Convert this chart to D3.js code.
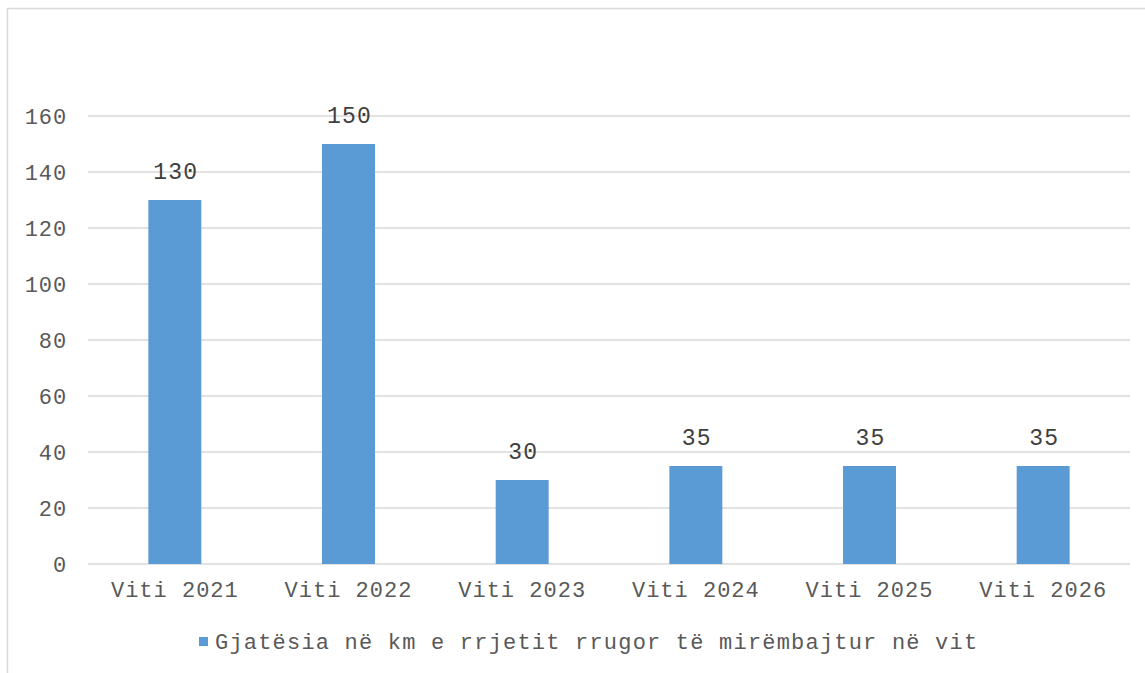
<!DOCTYPE html>
<html>
<head>
<meta charset="utf-8">
<script src="https://cdn.jsdelivr.net/npm/d3@7"></script>
<style>
  body { margin: 0; background: #fff; }
  text { font-family: "Liberation Mono", "Courier New", monospace; }
</style>
</head>
<body>
<svg id="chart" width="1145" height="673"></svg>
<script>
const categories = ["Viti 2021", "Viti 2022", "Viti 2023", "Viti 2024", "Viti 2025", "Viti 2026"];
const values = [130, 150, 30, 35, 35, 35];
const yTicks = [0, 20, 40, 60, 80, 100, 120, 140, 160];
const seriesName = "Gjatësia në km e rrjetit rrugor të mirëmbajtur në vit";

const margin = { top: 116, right: 15, bottom: 109, left: 88 };
const width = 1145 - margin.left - margin.right;
const height = 673 - margin.top - margin.bottom;

const svg = d3.select("#chart");

// outer chart border
svg.append("rect")
  .attr("x", 7.5).attr("y", 8.5)
  .attr("width", 1145).attr("height", 680)
  .attr("fill", "none")
  .attr("stroke", "#d9d9d9")
  .attr("stroke-width", 1.5);

const g = svg.append("g")
  .attr("transform", "translate(" + margin.left + "," + margin.top + ")");

const x = d3.scaleBand().domain(categories).range([0, width]).paddingInner(0.695).paddingOuter(0.3475);
const y = d3.scaleLinear().domain([0, 160]).range([height, 0]);

// gridlines
g.selectAll(".grid")
  .data(yTicks)
  .enter().append("line")
  .attr("x1", 0).attr("x2", width)
  .attr("y1", d => y(d)).attr("y2", d => y(d))
  .attr("stroke", "#d9d9d9")
  .attr("stroke-width", 1.5);

// y axis labels
const yAxis = d3.axisLeft(y).tickValues(yTicks).tickSize(0).tickPadding(21);
g.append("g").call(yAxis)
  .call(s => s.select(".domain").remove())
  .selectAll("text")
  .attr("fill", "#595959")
  .style("font-size", "22px")
  .style("letter-spacing", "0.9px")
  .style("font-family", "Liberation Mono");

// bars
g.selectAll(".bar")
  .data(values)
  .enter().append("rect")
  .attr("x", (d, i) => x(categories[i]))
  .attr("y", d => y(d))
  .attr("width", x.bandwidth())
  .attr("height", d => height - y(d))
  .attr("fill", "#5b9bd5");

// data labels
g.selectAll(".lbl")
  .data(values)
  .enter().append("text")
  .attr("x", (d, i) => x(categories[i]) + x.bandwidth() / 2 + 1)
  .attr("y", d => y(d) - 21)
  .attr("text-anchor", "middle")
  .attr("fill", "#404040")
  .style("font-size", "23px")
  .style("letter-spacing", "1.2px")
  .text(d => d);

// x axis
const xAxis = d3.axisBottom(x).tickSize(0).tickPadding(17);
g.append("g")
  .attr("transform", "translate(0," + height + ")")
  .call(xAxis)
  .call(s => s.select(".domain").remove())
  .selectAll("text")
  .attr("fill", "#595959")
  .style("font-size", "22px")
  .style("letter-spacing", "1px")
  .style("font-family", "Liberation Mono")
  .attr("dy", "0.71em");

// legend
const legend = svg.append("g").attr("transform", "translate(199,637)");
legend.append("rect")
  .attr("width", 9).attr("height", 9)
  .attr("fill", "#5b9bd5");
legend.append("text")
  .attr("x", 16).attr("y", 4.5)
  .attr("dy", "0.35em")
  .attr("fill", "#595959")
  .style("font-size", "22px")
  .style("letter-spacing", "1.2px")
  .text(seriesName);
</script>
</body>
</html>
